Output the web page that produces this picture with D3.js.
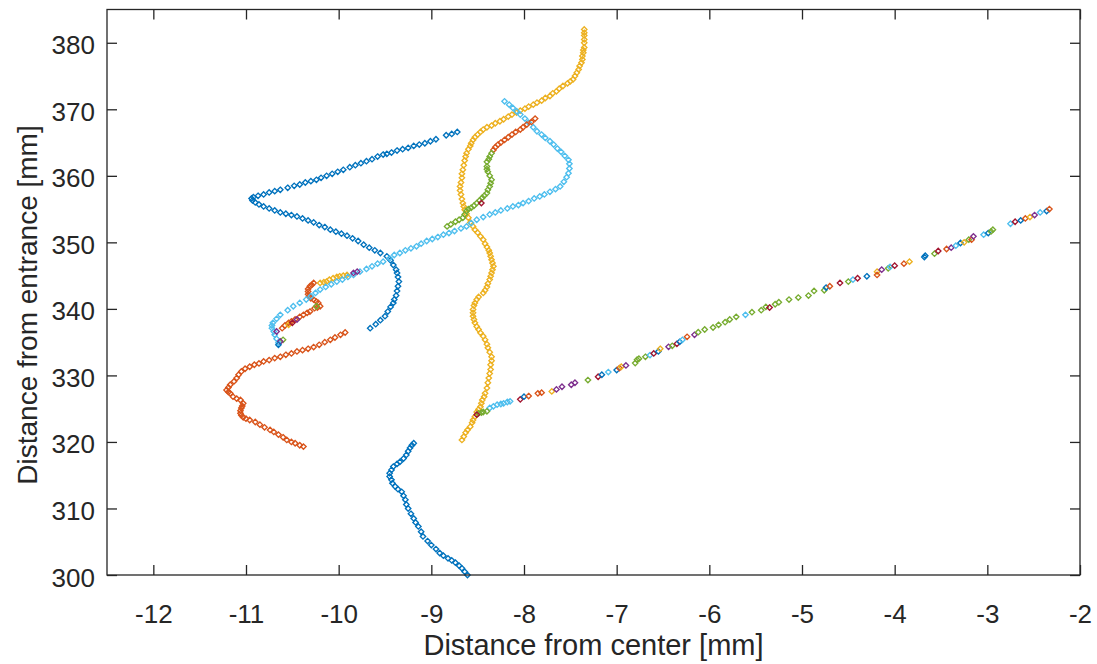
<!DOCTYPE html>
<html><head><meta charset="utf-8">
<script src="https://cdn.jsdelivr.net/npm/d3@7"></script>
<style>body{margin:0;background:#fff;} svg{display:block;}</style>
</head><body><svg id="c" width="1097" height="664"></svg>
<script>
// MATLAB default colour order
const colors = ["#0072BD","#D95319","#EDB120","#7E2F8E","#77AC30","#4DBEEE","#A2142F"];
const xTicks = [-12,-11,-10,-9,-8,-7,-6,-5,-4,-3,-2];
const yTicks = [300,310,320,330,340,350,360,370,380];
const xLabel = "Distance from center [mm]";
const yLabel = "Distance from entrance [mm]";

// trajectories [x (mm), y (mm)]
const blueLower = [[-8.61,300.0],[-8.64,300.5],[-8.67,301.0],[-8.70,301.4],[-8.74,301.85],[-8.78,302.2],[-8.82,302.5],[-8.87,302.9],[-8.91,303.3],[-8.95,303.9],[-9.0,304.5],[-9.04,305.1],[-9.09,305.8],[-9.11,306.5],[-9.14,307.3],[-9.17,307.9],[-9.19,308.5],[-9.22,309.2],[-9.25,310.0],[-9.27,310.6],[-9.28,311.3],[-9.30,311.9],[-9.32,312.5],[-9.36,312.9],[-9.39,313.3],[-9.42,313.8],[-9.43,314.3],[-9.45,314.8],[-9.45,315.3],[-9.43,315.8],[-9.41,316.3],[-9.37,316.7],[-9.34,317.0],[-9.30,317.5],[-9.27,318.05],[-9.25,318.6],[-9.23,319.1],[-9.21,319.5],[-9.19,319.8]];

const blueUpper = [[-8.72,366.6],[-8.78,366.3],[-8.84,366.1],[-8.95,365.5],[-9.01,365.2],[-9.07,364.9],[-9.13,364.7],[-9.19,364.5],[-9.25,364.2],[-9.31,364.0],[-9.37,363.8],[-9.43,363.5],[-9.48,363.3],[-9.52,363.2],[-9.58,362.9],[-9.64,362.5],[-9.70,362.2],[-9.76,361.9],[-9.82,361.6],[-9.88,361.3],[-9.95,360.9],[-10.01,360.6],[-10.07,360.3],[-10.13,360.0],[-10.19,359.7],[-10.24,359.4],[-10.30,359.2],[-10.36,359.0],[-10.42,358.7],[-10.48,358.5],[-10.55,358.2],[-10.63,357.9],[-10.69,357.7],[-10.75,357.5],[-10.81,357.2],[-10.87,357.0],[-10.92,356.8],[-10.94,356.6],[-10.93,356.3],[-10.90,356.0],[-10.86,355.7],[-10.81,355.4],[-10.75,355.1],[-10.69,354.8],[-10.63,354.5],[-10.57,354.3],[-10.51,354.1],[-10.45,353.9],[-10.39,353.6],[-10.33,353.3],[-10.27,353.0],[-10.21,352.6],[-10.15,352.3],[-10.09,351.9],[-10.03,351.6],[-9.97,351.3],[-9.91,351.0],[-9.85,350.6],[-9.79,350.2],[-9.73,349.65],[-9.67,349.2],[-9.61,348.8],[-9.55,348.4],[-9.48,347.9],[-9.44,347.3],[-9.41,346.6],[-9.38,345.9],[-9.37,345.4],[-9.36,344.8],[-9.35,344.1],[-9.36,343.4],[-9.37,342.7],[-9.38,342.0],[-9.40,341.4],[-9.41,340.9],[-9.44,340.3],[-9.47,339.6],[-9.50,338.9],[-9.55,338.3],[-9.60,337.7],[-9.66,337.1]];

const redLower = [[-9.93,336.45],[-9.98,336.1],[-10.04,335.7],[-10.09,335.35],[-10.15,335.0],[-10.21,334.6],[-10.27,334.26],[-10.33,334.0],[-10.39,333.8],[-10.45,333.6],[-10.51,333.3],[-10.57,333.1],[-10.63,332.8],[-10.69,332.6],[-10.75,332.3],[-10.81,332.1],[-10.86,331.8],[-10.91,331.6],[-10.96,331.3],[-11.01,331.0],[-11.05,330.6],[-11.08,330.1],[-11.10,329.6],[-11.13,329.1],[-11.17,328.6],[-11.19,328.2],[-11.21,327.8],[-11.19,327.5],[-11.17,327.3],[-11.14,326.8],[-11.10,326.5],[-11.06,326.3],[-11.03,325.8],[-11.04,325.4],[-11.05,325.1],[-11.06,324.7],[-11.06,324.3],[-11.05,324.0],[-11.03,323.7],[-11.00,323.5],[-10.96,323.3],[-10.90,323.0],[-10.85,322.6],[-10.80,322.2],[-10.74,321.8],[-10.70,321.5],[-10.65,321.1],[-10.60,320.7],[-10.56,320.3],[-10.51,320.0],[-10.47,319.8],[-10.42,319.5],[-10.38,319.3]];

const redMid = [[-10.27,343.9],[-10.29,343.6],[-10.31,343.4],[-10.33,343.0],[-10.33,342.6],[-10.33,342.2],[-10.32,341.9],[-10.30,341.6],[-10.27,341.4],[-10.24,341.1],[-10.22,340.9],[-10.20,340.4],[-10.23,340.2],[-10.26,340.1],[-10.31,339.6],[-10.34,339.4],[-10.38,339.1],[-10.42,338.8],[-10.47,338.4],[-10.51,338.1],[-10.54,337.9],[-10.58,337.5],[-10.61,337.1]];

const yellowMain = [[-7.35,382.0],[-7.35,381.5],[-7.35,381.1],[-7.35,380.5],[-7.35,380.0],[-7.35,379.3],[-7.36,378.9],[-7.36,378.5],[-7.37,378.0],[-7.37,377.5],[-7.38,377.0],[-7.40,376.5],[-7.41,376.0],[-7.43,375.5],[-7.45,375.0],[-7.47,374.5],[-7.50,374.2],[-7.53,373.9],[-7.58,373.5],[-7.62,373.1],[-7.65,372.7],[-7.69,372.4],[-7.72,372.0],[-7.77,371.7],[-7.81,371.3],[-7.86,371.0],[-7.90,370.7],[-7.95,370.4],[-7.99,370.1],[-8.04,369.8],[-8.08,369.5],[-8.13,369.2],[-8.17,368.9],[-8.22,368.5],[-8.26,368.2],[-8.31,367.9],[-8.35,367.55],[-8.40,367.3],[-8.44,366.95],[-8.47,366.6],[-8.50,366.2],[-8.53,365.8],[-8.55,365.4],[-8.57,364.9],[-8.58,364.5],[-8.60,364.0],[-8.62,363.4],[-8.63,362.9],[-8.64,362.3],[-8.65,361.6],[-8.66,360.9],[-8.67,360.3],[-8.67,359.7],[-8.68,359.0],[-8.69,358.4],[-8.69,357.8],[-8.68,357.2],[-8.67,356.5],[-8.66,355.9],[-8.65,355.4],[-8.64,354.9],[-8.62,354.3],[-8.60,353.7],[-8.58,353.0],[-8.55,352.4],[-8.53,351.9],[-8.50,351.45],[-8.47,350.9],[-8.44,350.4],[-8.42,349.8],[-8.40,349.3],[-8.38,348.8],[-8.37,348.4],[-8.36,347.9],[-8.35,347.4],[-8.34,346.9],[-8.33,346.4],[-8.34,345.9],[-8.35,345.4],[-8.36,344.9],[-8.37,344.4],[-8.39,343.8],[-8.40,343.3],[-8.42,342.8],[-8.44,342.4],[-8.49,341.8],[-8.51,341.4],[-8.53,340.9],[-8.54,340.5],[-8.55,339.9],[-8.55,339.4],[-8.55,338.9],[-8.54,338.4],[-8.53,337.9],[-8.51,337.35],[-8.49,336.9],[-8.47,336.4],[-8.44,335.9],[-8.42,335.35],[-8.40,334.7],[-8.39,334.15],[-8.37,333.5],[-8.35,332.8],[-8.35,332.2],[-8.36,331.6],[-8.36,330.9],[-8.37,330.3],[-8.38,329.6],[-8.39,328.9],[-8.40,328.1],[-8.42,327.3],[-8.43,326.8],[-8.45,326.3],[-8.46,325.8],[-8.47,325.3],[-8.49,324.9],[-8.51,324.5],[-8.53,323.8],[-8.55,323.3],[-8.56,322.9],[-8.58,322.3],[-8.61,321.8],[-8.63,321.4],[-8.65,320.8],[-8.67,320.3]];

const yellowShort = [[-10.20,343.9],[-10.16,344.0],[-10.13,344.1],[-10.10,344.4],[-10.06,344.6],[-10.02,344.8],[-9.99,344.9],[-9.95,345.0],[-9.91,345.1]];

const cyanMain = [[-8.21,371.2],[-8.16,370.7],[-8.12,370.2],[-8.08,369.7],[-8.04,369.2],[-7.99,368.6],[-7.95,368.0],[-7.90,367.3],[-7.86,366.7],[-7.81,366.2],[-7.77,365.7],[-7.72,365.2],[-7.68,364.7],[-7.64,364.1],[-7.60,363.6],[-7.56,363.0],[-7.52,362.4],[-7.51,361.8],[-7.51,361.1],[-7.52,360.4],[-7.54,359.8],[-7.57,359.1],[-7.61,358.4],[-7.66,358.0],[-7.72,357.6],[-7.78,357.2],[-7.83,356.9],[-7.89,356.6],[-7.95,356.2],[-8.01,355.9],[-8.06,355.6],[-8.12,355.4],[-8.18,355.1],[-8.25,354.8],[-8.31,354.5],[-8.37,354.2],[-8.44,353.8],[-8.51,353.4],[-8.57,352.9],[-8.62,352.4],[-8.68,352.1],[-8.75,351.7],[-8.81,351.4],[-8.87,351.15],[-8.93,350.8],[-8.99,350.5],[-9.05,350.2],[-9.11,349.8],[-9.16,349.4],[-9.22,349.1],[-9.28,348.8],[-9.34,348.4],[-9.40,348.1],[-9.45,347.6],[-9.52,347.1],[-9.58,346.8],[-9.64,346.4],[-9.70,346.0],[-9.77,345.6],[-9.84,345.1],[-9.90,344.8],[-9.96,344.4],[-10.02,344.1],[-10.08,343.7],[-10.14,343.3],[-10.20,342.9],[-10.25,342.4],[-10.30,341.9],[-10.35,341.4],[-10.42,340.9],[-10.49,340.4],[-10.55,339.8],[-10.63,339.1],[-10.67,338.5],[-10.71,337.9],[-10.72,337.5],[-10.72,337.1],[-10.70,336.6],[-10.69,336.1],[-10.67,335.5],[-10.65,334.9]];

const redTop = [[-7.88,368.6],[-7.92,368.1],[-7.97,367.7],[-8.01,367.3],[-8.04,366.95],[-8.09,366.6],[-8.13,366.2],[-8.17,365.8],[-8.21,365.4],[-8.25,365.0],[-8.28,364.7],[-8.31,364.3],[-8.33,363.9]];

const greenTop = [[-8.35,363.4],[-8.37,362.9],[-8.38,362.5],[-8.40,362.1],[-8.40,361.4],[-8.40,361.0],[-8.39,360.6],[-8.37,360.0],[-8.35,359.4],[-8.36,358.9],[-8.37,358.4],[-8.39,357.9],[-8.40,357.4],[-8.43,357.0],[-8.45,356.7],[-8.48,356.3],[-8.51,355.9],[-8.54,355.5],[-8.57,355.2],[-8.60,355.0],[-8.62,354.7],[-8.64,354.2],[-8.66,353.7],[-8.70,353.4],[-8.74,353.1],[-8.79,352.7],[-8.83,352.4]];

const cyanLower = [[-8.37,325.1],[-8.33,325.35],[-8.29,325.6],[-8.25,325.7],[-8.22,325.8],[-8.18,326.0],[-8.15,326.1]];
const greenLower = [[-8.49,324.3],[-8.46,324.4],[-8.44,324.5],[-8.40,324.6]];

// isolated points [x, y, colour index]
const scattered = [[-9.84,345.4,3],[-9.80,345.6,3],[-10.67,336.6,3],[-10.60,335.35,4],[-10.63,335.1,3],[-10.65,334.6,0],[-10.54,337.6,2],[-10.50,337.9,6],[-10.45,338.4,3],[-10.24,340.4,4],[-8.46,355.9,6],[-8.51,324.1,6]];

// fast track, each point has its own colour [x, y, colour index]
const fastTrack = [[-8.04,326.4,6],[-8.00,326.8,0],[-7.95,326.9,1],[-7.85,327.3,1],[-7.81,327.4,1],[-7.70,327.6,2],[-7.65,327.9,3],[-7.59,328.3,3],[-7.49,328.6,3],[-7.45,328.9,3],[-7.31,329.3,4],[-7.20,329.8,6],[-7.16,330.1,0],[-7.09,330.5,5],[-7.00,330.8,0],[-6.97,331.1,1],[-6.95,331.3,2],[-6.90,331.5,3],[-6.80,331.85,4],[-6.78,332.35,4],[-6.76,332.5,4],[-6.69,332.8,4],[-6.64,333.05,5],[-6.60,333.3,6],[-6.55,333.6,0],[-6.53,334.0,2],[-6.44,334.3,3],[-6.40,334.45,4],[-6.35,334.75,6],[-6.32,335.05,0],[-6.29,335.35,5],[-6.24,335.8,1],[-6.16,336.1,3],[-6.12,336.5,4],[-6.05,336.9,4],[-5.96,337.2,4],[-5.90,337.6,4],[-5.83,338.0,4],[-5.78,338.4,4],[-5.71,338.8,4],[-5.61,339.1,5],[-5.54,339.5,4],[-5.44,339.8,4],[-5.39,340.3,4],[-5.35,340.2,6],[-5.29,340.7,4],[-5.25,341.0,4],[-5.14,341.4,4],[-5.04,341.7,4],[-4.93,342.0,4],[-4.87,342.7,4],[-4.76,342.8,4],[-4.74,343.2,0],[-4.70,343.4,1],[-4.59,343.9,6],[-4.50,344.1,4],[-4.45,344.4,5],[-4.40,344.6,6],[-4.30,344.9,0],[-4.19,345.6,2],[-4.19,345.1,1],[-4.14,345.9,3],[-4.07,346.1,4],[-4.05,346.3,5],[-4.00,346.5,6],[-3.90,346.8,1],[-3.84,347.1,2],[-3.68,347.8,0],[-3.67,348.0,0],[-3.57,348.3,4],[-3.53,348.7,6],[-3.44,349.0,1],[-3.39,349.2,3],[-3.34,349.5,5],[-3.29,349.9,0],[-3.25,350.0,2],[-3.20,350.4,4],[-3.17,350.4,1],[-3.15,350.9,3],[-3.04,351.15,5],[-2.99,351.4,0],[-2.96,351.65,4],[-2.94,351.9,4],[-2.75,352.8,5],[-2.70,353.1,6],[-2.64,353.3,0],[-2.59,353.6,1],[-2.54,353.8,2],[-2.49,354.1,3],[-2.43,354.5,5],[-2.36,354.7,0],[-2.33,355.0,1]];

const L = 107, R = 1080, T = 9.5, B = 575;
const x = d3.scaleLinear().domain([-12.5, -2]).range([L, R]);
const y = d3.scaleLinear().domain([300, 385]).range([B, T]);
const svg = d3.select("#c");
svg.append("rect").attr("width",1097).attr("height",664).attr("fill","#fff");

const font = "'Liberation Sans', Arial, Helvetica, sans-serif";
const axisCol = "#262626";
const diamond = "M0,-2.7L2.7,0L0,2.7L-2.7,0Z";

const plotG = svg.append("g");
function plot(data, ci) {
  plotG.append("g").selectAll("path").data(data).join("path")
    .attr("d", diamond)
    .attr("transform", d => `translate(${x(d[0])},${y(d[1])})`)
    .attr("fill", "none")
    .attr("stroke", d => colors[d.length > 2 ? d[2] : ci])
    .attr("stroke-width", 1.35);
}
plot(blueLower, 0);
plot(blueUpper, 0);
plot(redLower, 1);
plot(redMid, 1);
plot(yellowMain, 2);
plot(yellowShort, 2);
plot(cyanMain, 5);
plot(redTop, 1);
plot(greenTop, 4);
plot(cyanLower, 5);
plot(greenLower, 4);
plot(scattered, 0);
plot(fastTrack, 0);

// axes
const fmt = d => String(d);
function styleAxis(g) {
  g.select(".domain").remove();
  g.selectAll(".tick line").attr("stroke", axisCol).attr("stroke-width", 1.3);
  g.selectAll("text").attr("fill", axisCol).attr("font-family", font).attr("font-size", 26);
}
const gb = svg.append("g").attr("transform", `translate(0,${B})`)
  .call(d3.axisBottom(x).tickValues(xTicks).tickSize(-10).tickSizeOuter(0).tickFormat(fmt));
styleAxis(gb);
gb.selectAll("text").attr("y", 48).attr("dy", 0);
const gt = svg.append("g").attr("transform", `translate(0,${T})`)
  .call(d3.axisTop(x).tickValues(xTicks).tickSize(-10).tickSizeOuter(0).tickFormat(""));
styleAxis(gt);
const gl = svg.append("g").attr("transform", `translate(${L},0)`)
  .call(d3.axisLeft(y).tickValues(yTicks).tickSize(-10).tickSizeOuter(0).tickFormat(fmt));
styleAxis(gl);
gl.selectAll("text").attr("x", -12).attr("dy", 11);
const gr = svg.append("g").attr("transform", `translate(${R},0)`)
  .call(d3.axisRight(y).tickValues(yTicks).tickSize(-10).tickSizeOuter(0).tickFormat(""));
styleAxis(gr);

svg.append("rect").attr("x", L).attr("y", T).attr("width", R - L).attr("height", B - T)
  .attr("fill", "none").attr("stroke", axisCol).attr("stroke-width", 1.3);

svg.append("text").attr("x", (L + R) / 2).attr("y", 655).attr("text-anchor", "middle")
  .attr("font-family", font).attr("font-size", 29).attr("fill", axisCol).text(xLabel);
svg.append("text").attr("transform", `translate(37,305) rotate(-90)`).attr("text-anchor", "middle")
  .attr("font-family", font).attr("font-size", 28).attr("fill", axisCol).text(yLabel);
</script>
</body></html>
